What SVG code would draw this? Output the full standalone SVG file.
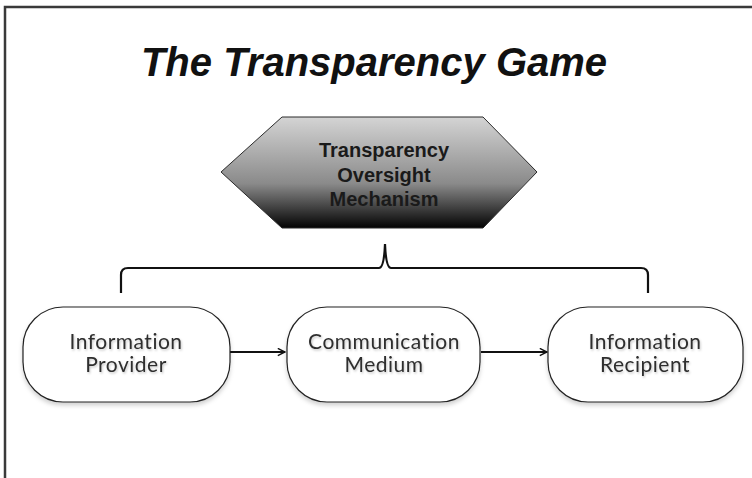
<svg xmlns="http://www.w3.org/2000/svg" width="752" height="478" viewBox="0 0 752 478">
  <defs>
    <linearGradient id="hexFill" x1="0" y1="0" x2="0" y2="1">
      <stop offset="0" stop-color="#d4d4d4"/>
      <stop offset="0.6" stop-color="#8a8a8a"/>
      <stop offset="1" stop-color="#030303"/>
    </linearGradient>
    <filter id="boxShadow" x="-10%" y="-10%" width="120%" height="130%">
      <feDropShadow dx="0" dy="3" stdDeviation="2" flood-color="#000" flood-opacity="0.18"/>
    </filter>
    <filter id="textShadow" x="-10%" y="-20%" width="120%" height="150%">
      <feDropShadow dx="1" dy="1.5" stdDeviation="1" flood-color="#000" flood-opacity="0.22"/>
    </filter>
    <marker id="arrow" viewBox="0 0 10 10" refX="9" refY="5" markerWidth="9" markerHeight="9" markerUnits="userSpaceOnUse" orient="auto">
      <path d="M1,1 L9,5 L1,9" fill="none" stroke="#111" stroke-width="1.6"/>
    </marker>
    <style>
      .box { fill: #fff; stroke: #222; stroke-width: 1.2; filter: url(#boxShadow); }
      .label { font-family: "Lato", "Liberation Sans", sans-serif; font-size: 21px; fill: #2e2e2e; text-anchor: middle; letter-spacing: 0.5px; filter: url(#textShadow); }
      .hexlabel { font-family: "Liberation Sans", Arial, sans-serif; font-size: 20px; font-weight: bold; fill: #1a1a1a; text-anchor: middle; }
      .title { font-family: "Liberation Sans", Arial, sans-serif; font-size: 40px; font-weight: bold; font-style: italic; fill: #111; text-anchor: middle; }
      .conn { fill: none; stroke: #111; stroke-width: 2.2; }
    </style>
  </defs>

  <rect width="752" height="478" fill="#fff"/>

  <!-- page frame -->
  <path d="M5,478 V7 H752" fill="none" stroke="#3a3a3a" stroke-width="2.5"/>

  <!-- title -->
  <text class="title" x="374" y="76">The Transparency Game</text>

  <!-- oversight mechanism -->
  <g id="oversight">
    <polygon points="221,172 282,117 483,117 537,172 483,228 282,228" fill="url(#hexFill)" stroke="#2a2a2a" stroke-width="1"/>
    <text class="hexlabel" x="384" y="157">Transparency</text>
    <text class="hexlabel" x="384" y="182">Oversight</text>
    <text class="hexlabel" x="384" y="206">Mechanism</text>
  </g>

  <g id="connectors">
    <!-- brace spanning the three parties -->
    <path class="conn" d="M121,293 V275 Q121,268 128,268 H379 Q384,268 385,244 Q386,268 391,268 H641 Q648,268 648,275 V293"/>
    <line class="conn" x1="230" y1="352" x2="285" y2="352" marker-end="url(#arrow)"/>
    <line class="conn" x1="481" y1="352" x2="547" y2="352" marker-end="url(#arrow)"/>
  </g>

  <g id="provider">
    <rect class="box" x="23" y="307" width="207" height="95" rx="40" ry="40"/>
    <text class="label" x="126" y="349">Information</text>
    <text class="label" x="126" y="372">Provider</text>
  </g>

  <g id="medium">
    <rect class="box" x="287" y="307" width="193" height="95" rx="40" ry="40"/>
    <text class="label" x="384" y="349">Communication</text>
    <text class="label" x="384" y="372">Medium</text>
  </g>

  <g id="recipient">
    <rect class="box" x="548" y="307" width="195" height="95" rx="40" ry="40"/>
    <text class="label" x="645" y="349">Information</text>
    <text class="label" x="645" y="372">Recipient</text>
  </g>
</svg>
